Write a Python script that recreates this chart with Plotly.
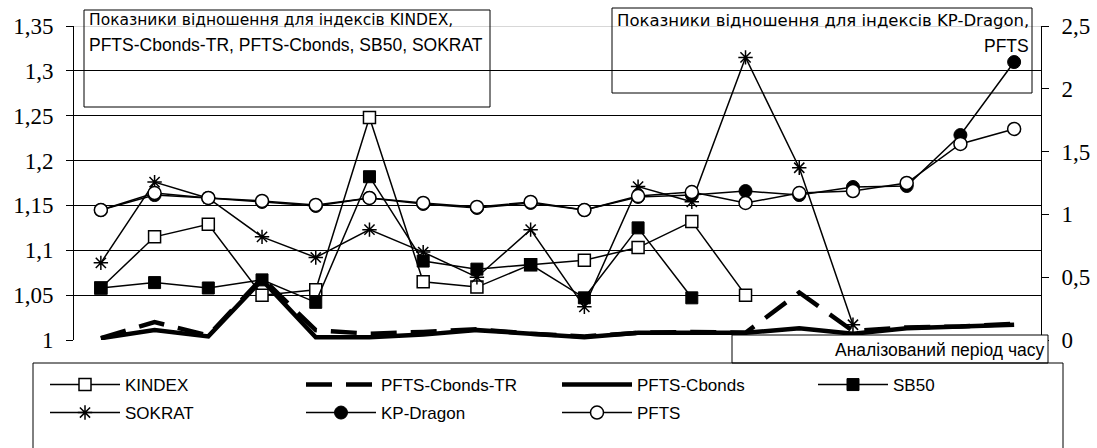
import plotly.graph_objects as go

# ---------------- data ----------------
periods = list(range(1, 19))

kindex = [1.058, 1.115, 1.129, 1.050, 1.056, 1.248, 1.065, 1.059, 1.084,
          1.089, 1.103, 1.132, 1.050]
pfts_cbonds_tr = [1.002, 1.020, 1.005, 1.069, 1.011, 1.007, 1.009, 1.012, 1.007,
                  1.004, 1.008, 1.009, 1.008, 1.053, 1.010, 1.014, 1.015, 1.018]
pfts_cbonds = [1.002, 1.011, 1.004, 1.067, 1.003, 1.003, 1.006, 1.011, 1.007,
               1.003, 1.008, 1.008, 1.008, 1.013, 1.007, 1.013, 1.015, 1.017]
sb50 = [1.058, 1.064, 1.058, 1.067, 1.042, 1.182, 1.088, 1.079, 1.084,
        1.047, 1.125, 1.047]
sokrat = [1.086, 1.176, 1.158, 1.115, 1.092, 1.123, 1.098, 1.070, 1.123,
          1.037, 1.171, 1.154, 1.315, 1.192, 1.017]
kp_dragon = [1.035, 1.154, 1.131, 1.099, 1.067, 1.131, 1.083, 1.051, 1.091,
             1.035, 1.139, 1.154, 1.186, 1.154, 1.218, 1.226, 1.632, 2.213]
pfts = [1.035, 1.170, 1.131, 1.107, 1.075, 1.131, 1.091, 1.059, 1.099,
        1.035, 1.146, 1.178, 1.091, 1.170, 1.186, 1.250, 1.561, 1.680]

left_ticks = [1, 1.05, 1.1, 1.15, 1.2, 1.25, 1.3, 1.35]
left_labels = ["1", "1,05", "1,1", "1,15", "1,2", "1,25", "1,3", "1,35"]
right_ticks = [0, 0.5, 1, 1.5, 2, 2.5]
right_labels = ["0", "0,5", "1", "1,5", "2", "2,5"]

box_left_lines = ["Показники відношення для індексів KINDEX,",
                  "PFTS-Cbonds-TR, PFTS-Cbonds, SB50, SOKRAT"]
box_right_lines = ["Показники відношення для індексів KP-Dragon,", "PFTS"]
x_title = "Аналізований період часу"

# ---------------- layout helpers ----------------
W, H = 1097, 448
L, R, T, B = 74, 56, 26, 108
PW, PH = W - L - R, H - T - B


def px(x):
    return (x - L) / PW


def py(y):
    return (H - B - y) / PH


SANS = "Liberation Sans, Arial, sans-serif"
WIDE = "DejaVu Sans, Liberation Sans, sans-serif"
SERIF = "Liberation Serif, Times New Roman, serif"
BLK = "black"

fig = go.Figure()

thin = dict(color=BLK, width=1.5)

fig.add_trace(go.Scatter(
    x=periods[:len(kindex)], y=kindex, name="KINDEX", mode="lines+markers",
    line=thin, marker=dict(symbol="square", size=12, color="white",
                           line=dict(color=BLK, width=1.5)),
    legend="legend"))
fig.add_trace(go.Scatter(
    x=periods, y=pfts_cbonds_tr, name="PFTS-Cbonds-TR", mode="lines",
    line=dict(color=BLK, width=4.5, dash="26px,14px"), legend="legend"))
fig.add_trace(go.Scatter(
    x=periods, y=pfts_cbonds, name="PFTS-Cbonds", mode="lines",
    line=dict(color=BLK, width=4.5), legend="legend"))
fig.add_trace(go.Scatter(
    x=periods[:len(sb50)], y=sb50, name="SB50", mode="lines+markers",
    line=thin, marker=dict(symbol="square", size=12, color=BLK,
                           line=dict(color=BLK, width=1)),
    legend="legend"))
fig.add_trace(go.Scatter(
    x=periods[:len(sokrat)], y=sokrat, name="SOKRAT", mode="lines+markers",
    line=thin, marker=dict(symbol="asterisk-open", size=12, color=BLK,
                           line=dict(color=BLK, width=1.5)),
    legend="legend2"))
fig.add_trace(go.Scatter(
    x=periods, y=kp_dragon, name="KP-Dragon", mode="lines+markers", yaxis="y2",
    line=thin, marker=dict(symbol="circle", size=13, color=BLK,
                           line=dict(color=BLK, width=1)),
    legend="legend2"))
fig.add_trace(go.Scatter(
    x=periods, y=pfts, name="PFTS", mode="lines+markers", yaxis="y2",
    line=thin, marker=dict(symbol="circle", size=13, color="white",
                           line=dict(color=BLK, width=1.5)),
    legend="legend2"))

legend_common = dict(
    orientation="h", x=px(45), xanchor="left", yanchor="middle",
    entrywidth=171, entrywidthmode="pixels", itemwidth=70,
    font=dict(family=SANS, size=17, color=BLK),
    bgcolor="rgba(0,0,0,0)", borderwidth=0, itemclick=False,
)

shapes = [
    dict(type="line", xref="paper", yref="y", x0=0, x1=1, y0=1.35, y1=1.35,
         line=dict(color="#b0b0b0", width=1)),
    dict(type="rect", xref="paper", yref="paper", x0=px(84), x1=px(490),
         y0=py(107), y1=py(10), line=dict(color=BLK, width=1)),
    dict(type="rect", xref="paper", yref="paper", x0=px(612), x1=px(1032),
         y0=py(93), y1=py(8), line=dict(color=BLK, width=1)),
    dict(type="rect", xref="paper", yref="paper", x0=px(732), x1=px(1048),
         y0=py(363), y1=py(335), line=dict(color=BLK, width=1),
         fillcolor="white"),
    dict(type="rect", xref="paper", yref="paper", x0=px(33), x1=px(1063),
         y0=py(470), y1=py(363), line=dict(color=BLK, width=1)),
]

annotations = [
    dict(text=box_left_lines[0], x=px(87), y=py(20), xanchor="left",
         font=dict(family=WIDE, size=15.5, color=BLK)),
    dict(text=box_left_lines[1], x=px(87), y=py(45), xanchor="left",
         font=dict(family=SANS, size=17.5, color=BLK)),
    dict(text=box_right_lines[0], x=px(1031), y=py(20), xanchor="right",
         font=dict(family=WIDE, size=16.5, color=BLK)),
    dict(text=box_right_lines[1], x=px(1031), y=py(46), xanchor="right",
         font=dict(family=SANS, size=17.5, color=BLK)),
    dict(text=x_title, x=px(1046), y=py(350), xanchor="right",
         font=dict(family=SANS, size=17.5, color=BLK)),
]
for a in annotations:
    a.update(xref="paper", yref="paper", yanchor="middle", showarrow=False)

fig.update_layout(
    width=W, height=H,
    margin=dict(l=L, r=R, t=T, b=B, pad=0, autoexpand=False),
    paper_bgcolor="white", plot_bgcolor="white",
    showlegend=True,
    legend=dict(legend_common, y=py(385)),
    legend2=dict(legend_common, y=py(413)),
    xaxis=dict(range=[0.5, 18.5], showticklabels=False, ticks="", showgrid=False,
               zeroline=False, showline=False),
    yaxis=dict(range=[1, 1.35], tickvals=left_ticks, ticktext=left_labels,
               showgrid=True, gridcolor=BLK, gridwidth=1, zeroline=False,
               showline=True, linecolor=BLK, linewidth=1,
               ticks="outside", ticklen=7, tickcolor=BLK, tickwidth=1,
               ticklabelstandoff=8,
               tickfont=dict(family=SERIF, size=23, color=BLK)),
    yaxis2=dict(range=[0, 2.5], tickvals=right_ticks, ticktext=right_labels,
                overlaying="y", side="right", showgrid=False, zeroline=False,
                showline=True, linecolor=BLK, linewidth=1,
                ticks="outside", ticklen=7, tickcolor=BLK, tickwidth=1,
                ticklabelstandoff=8,
                tickfont=dict(family=SERIF, size=23, color=BLK)),
    shapes=shapes,
    annotations=annotations,
)

fig.write_html("out.html",
               config={"displayModeBar": False, "staticPlot": True},
               post_script="document.body.style.margin='0';"
                           "document.body.style.overflow='hidden';")
